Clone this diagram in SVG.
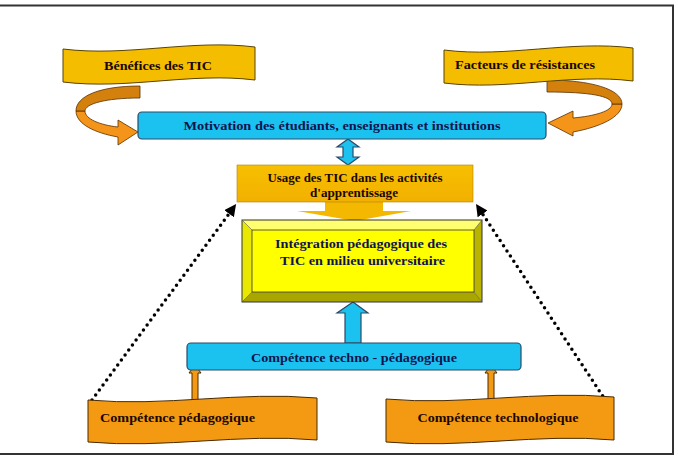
<svg xmlns="http://www.w3.org/2000/svg" width="678" height="456" viewBox="0 0 678 456">
<style>
.t{font-family:"Liberation Serif","Times New Roman",serif;font-weight:bold;font-size:12.5px}
.navy{fill:#0e1450}
.dark{fill:#1a0800}
.cyan{fill:#1cc2ef;stroke:#2b4a66;stroke-width:1.2}
.gold{fill:#f4bd00;stroke:#5a4200;stroke-width:1}
.orng{fill:#f49a12;stroke:#4a2a00;stroke-width:1}
.dot{fill:none;stroke:#000;stroke-width:3.5;stroke-linecap:round;stroke-dasharray:0 6.2}
</style>
<defs>
<marker id="ah" viewBox="0 0 10 10" refX="7" refY="5" markerWidth="3.4" markerHeight="3.4" orient="auto" markerUnits="strokeWidth">
<path d="M0,0 L10,5 L0,10 Z" fill="#000"/>
</marker>
<linearGradient id="gUse" x1="0" y1="0" x2="0" y2="1">
<stop offset="0" stop-color="#f7c000"/><stop offset="1" stop-color="#f2b000"/>
</linearGradient>
</defs>
<rect x="0" y="0" width="678" height="456" fill="#fff"/>
<!-- frame -->
<path d="M0,5.5 H673 V454 H0" fill="none" stroke="#333" stroke-width="2"/>

<g id="connectors">
<!-- left curved arrow -->
<path d="M76,111 C76,124 95,133 118,137 L118,145 L138,132 L118,120 L118,127 C100,125 85,119 85,111 Z" fill="#f4951a" stroke="#5a3000" stroke-width="0.8"/>
<path d="M140,86 C100,86 76,96 76,111 L85,111 C85,104 105,98 140,98 Z" fill="#d4800c" stroke="#5a3000" stroke-width="0.8"/>
<!-- right curved arrow -->
<path d="M622,104 C622,117 600,127 573,132 L573,136 L548,123 L573,111 L573,118 C595,116 612,111 612,104 Z" fill="#f4951a" stroke="#5a3000" stroke-width="0.8"/>
<path d="M547,80 C590,80 622,89 622,104 L612,104 C612,96 590,92 547,92 Z" fill="#d4800c" stroke="#5a3000" stroke-width="0.8"/>
<!-- double arrow -->
<path class="cyan" d="M348,139 L359,147 L353,147 L353,157 L359,157 L348,165 L337,157 L343,157 L343,147 L337,147 Z"/>
<!-- down block arrow from Usage -->
<path d="M325,202 L383,202 L383,211 L411,211 L355,221 L297,211 L325,211 Z" fill="#f4b800" stroke="none"/>
<!-- up arrow into Intégration -->
<path class="cyan" d="M353,302 L368,313 L361,313 L361,343 L345,343 L345,313 L337,313 Z"/>
<!-- small orange arrows -->
<path class="orng" d="M195,365 L201,373 L198,373 L198,401 L192,401 L192,373 L189,373 Z"/>
<path class="orng" d="M491,365 L497,373 L494,373 L494,401 L488,401 L488,373 L485,373 Z"/>
<!-- dotted lines -->
<path class="dot" d="M92,400 L234,207" marker-end="url(#ah)"/>
<path class="dot" d="M606,401 L478,207" marker-end="url(#ah)"/>
</g>

<g id="benefices">
<path class="gold" d="M63,49 C127,57 191,39 255,47 L255,80 C191,72 127,90 63,82 Z"/>
<text class="t dark" x="158" y="70" text-anchor="middle" textLength="108" lengthAdjust="spacingAndGlyphs">Bénéfices des TIC</text>
</g>

<g id="facteurs">
<path class="gold" d="M444,50 C507,58 570,40 633,48 L633,81 C570,73 507,91 444,83 Z"/>
<text class="t dark" x="525" y="69" text-anchor="middle" textLength="140" lengthAdjust="spacingAndGlyphs">Facteurs de résistances</text>
</g>

<g id="motivation">
<rect class="cyan" x="138" y="112" width="408" height="27" rx="4"/>
<text class="t navy" x="342" y="130" text-anchor="middle" textLength="317" lengthAdjust="spacingAndGlyphs">Motivation des étudiants, enseignants et institutions</text>
</g>

<g id="usage">
<rect x="237" y="165" width="236" height="37" fill="url(#gUse)" stroke="#b08000" stroke-width="0.6"/>
<text class="t dark" x="355" y="182" text-anchor="middle" textLength="175" lengthAdjust="spacingAndGlyphs">Usage des TIC dans les activités</text>
<text class="t dark" x="354" y="197" text-anchor="middle" textLength="88" lengthAdjust="spacingAndGlyphs">d'apprentissage</text>
</g>

<g id="integration">
<path d="M242,220 L482,220 L474,230 L252,230 Z" fill="#ffff70"/>
<path d="M242,220 L252,230 L252,292 L242,302 Z" fill="#e8e800"/>
<path d="M482,220 L482,302 L474,292 L474,230 Z" fill="#b8b400"/>
<path d="M242,302 L252,292 L474,292 L482,302 Z" fill="#aaa600"/>
<rect x="252" y="230" width="222" height="62" fill="#ffff00" stroke="#333" stroke-width="0.8"/>
<rect x="242" y="220" width="240" height="82" fill="none" stroke="#333" stroke-width="1"/>
<path d="M242,220 L252,230 M482,220 L474,230 M242,302 L252,292 M482,302 L474,292" stroke="#555" stroke-width="0.6"/>
<text class="t navy" x="275" y="248" textLength="172" lengthAdjust="spacingAndGlyphs">Intégration pédagogique des</text>
<text class="t navy" x="280" y="265" textLength="165" lengthAdjust="spacingAndGlyphs">TIC en milieu universitaire</text>
</g>

<g id="techno-peda">
<rect class="cyan" x="187" y="343" width="334" height="27" rx="4"/>
<text class="t navy" x="354" y="362" text-anchor="middle" textLength="206" lengthAdjust="spacingAndGlyphs">Compétence techno - pédagogique</text>
</g>

<g id="comp-peda">
<path class="orng" d="M88,400 C164,407 240,391 317,398 L317,440 C240,433 164,449 88,442 Z"/>
<text class="t dark" x="100" y="422" textLength="155" lengthAdjust="spacingAndGlyphs">Compétence pédagogique</text>
</g>

<g id="comp-techno">
<path class="orng" d="M386,399 C462,406 538,390 614,397 L614,440 C538,433 462,449 386,442 Z"/>
<text class="t dark" x="498" y="422" text-anchor="middle" textLength="161" lengthAdjust="spacingAndGlyphs">Compétence technologique</text>
</g>
</svg>
